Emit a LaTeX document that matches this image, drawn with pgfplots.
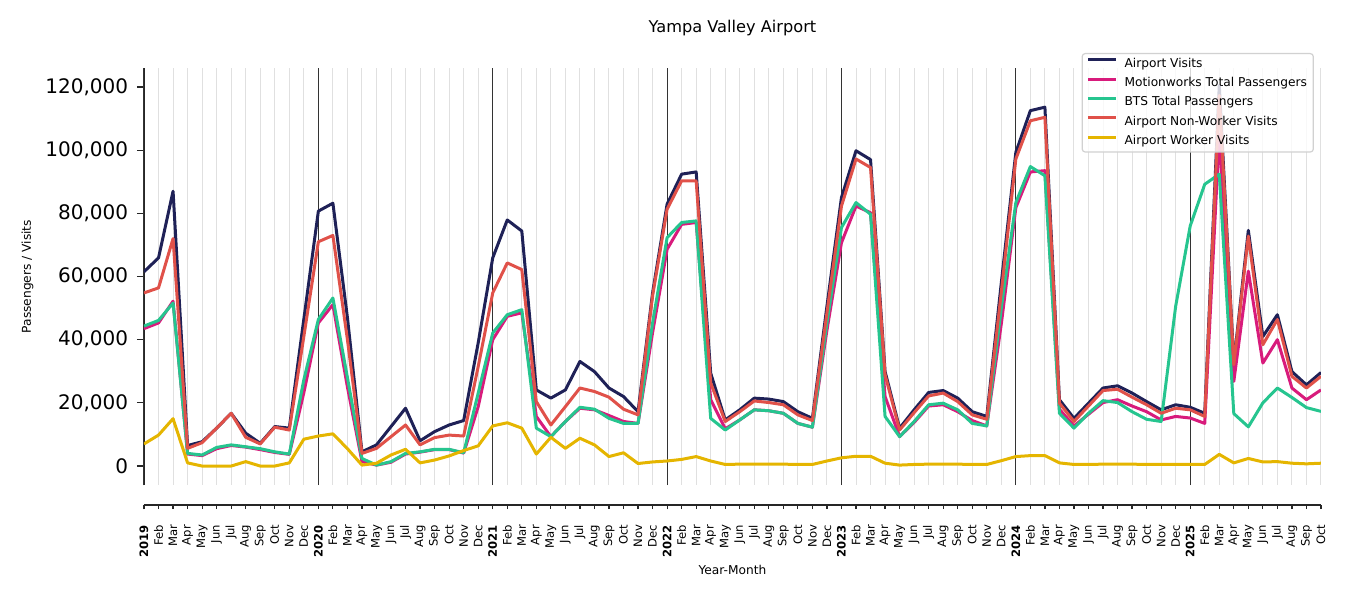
\documentclass[border=0pt]{standalone}
\usepackage{pgfplots}
\pgfplotsset{compat=1.18}
\usepackage{pgfplotstable}
\usepackage{fontspec}
\setmainfont{DejaVu Sans}

\definecolor{cnavy}{RGB}{31,33,87}
\definecolor{cpink}{RGB}{216,27,124}
\definecolor{cgreen}{RGB}{38,197,143}
\definecolor{cred}{RGB}{224,81,73}
\definecolor{cyellow}{RGB}{229,181,0}

\pgfplotstableread{
m visits motion bts nonworker worker
0 61500 43500 44300 54800 7000
1 65900 45300 46100 56400 9800
2 87000 52200 51600 72000 15000
3 6500 3800 4000 5600 1000
4 7700 3300 3500 7400 0
5 12000 5500 5900 12000 0
6 16700 6500 6700 16700 0
7 10400 6000 6100 9100 1400
8 7200 5200 5500 7000 0
9 12500 4300 4500 12300 0
10 12000 3700 3800 11400 1000
11 46500 23200 27300 41000 8500
12 80700 45300 46400 71000 9500
13 83200 51100 53200 73000 10200
14 47000 25000 28000 40000 5500
15 4500 1400 2400 4000 300
16 6700 300 300 5600 900
17 12500 1200 1400 9300 3500
18 18300 3800 4000 13000 5300
19 8000 4400 4500 6700 1000
20 10900 5200 5300 9000 1900
21 13000 5200 5300 9800 3200
22 14400 4100 4200 9500 4900
23 39000 18800 23100 31500 6400
24 65900 40000 42100 54800 12700
25 77900 47400 47900 64300 13700
26 74400 48500 49500 62200 12000
27 24100 15700 12000 20400 3800
28 21500 9300 9300 13000 9100
29 24100 14100 14100 18800 5600
30 33100 18300 18600 24700 8800
31 29900 17800 18000 23600 6700
32 24700 16000 15100 21800 3000
33 22000 14100 13500 18000 4200
34 17200 13500 13500 16200 800
35 54800 42200 45300 53800 1300
36 82900 68600 72300 81300 1600
37 92400 76500 77100 90300 2100
38 93100 77100 77600 90300 3000
39 29400 21000 15100 26300 1600
40 14600 11800 11400 14100 500
41 17800 14600 14600 17200 600
42 21500 17800 17800 20600 600
43 21200 17500 17500 20100 600
44 20400 16700 16700 19400 600
45 17200 13500 13500 16200 500
46 15100 12300 12300 14400 500
47 50600 43000 45300 48500 1600
48 85000 70700 75500 82300 2600
49 99800 82300 83400 97200 3100
50 97000 80200 79700 94500 3100
51 29900 22000 15700 28900 900
52 12000 9300 9300 11400 300
53 17800 13800 14100 16900 500
54 23300 19000 19400 22200 600
55 23900 19400 19900 23100 600
56 21500 17200 17800 20400 600
57 17200 14400 13500 16200 500
58 15700 12700 12700 14800 500
59 58000 45000 50000 55000 1700
60 99300 81800 83400 97200 3000
61 112500 93100 94800 109300 3300
62 113600 93500 91900 110400 3300
63 21000 18000 16700 19900 1000
64 15100 12700 12000 14100 500
65 19900 16400 16700 19000 500
66 24700 20100 20700 23900 600
67 25400 21000 20100 24300 600
68 23100 19000 17200 21800 600
69 20400 17200 14800 19400 500
70 17800 14600 14100 16700 500
71 19400 15700 50600 18300 500
72 18600 15200 76000 17800 500
73 16700 13500 89200 15700 500
74 120500 105000 92400 117300 3700
75 32600 26800 16600 32100 1000
76 74600 61700 12400 72800 2400
77 41000 32600 20000 38400 1300
78 47900 40000 24700 46400 1400
79 29900 24700 21700 28400 900
80 25700 21000 18500 24700 700
81 29600 24100 17300 28400 900
}\datatable

\begin{document}
\begin{tikzpicture}
\useasboundingbox (0,0) rectangle (675pt,300pt);

\begin{axis}[
  at={(72pt,57.5pt)}, anchor=south west,
  scale only axis, width=588.5pt, height=208.5pt,
  xmin=0, xmax=81, ymin=-6000, ymax=126000,
  no markers,
  separate axis lines,
  axis y line*=left, axis x line*=bottom,
  axis x line shift=10pt,
  x axis line style={draw=black!85, line width=1pt},
  y axis line style={draw=black!85, line width=0.6pt},
  xtick={0,...,81},
  xticklabels={\textbf{2019},Feb,Mar,Apr,May,Jun,Jul,Aug,Sep,Oct,Nov,Dec,
    \textbf{2020},Feb,Mar,Apr,May,Jun,Jul,Aug,Sep,Oct,Nov,Dec,
    \textbf{2021},Feb,Mar,Apr,May,Jun,Jul,Aug,Sep,Oct,Nov,Dec,
    \textbf{2022},Feb,Mar,Apr,May,Jun,Jul,Aug,Sep,Oct,Nov,Dec,
    \textbf{2023},Feb,Mar,Apr,May,Jun,Jul,Aug,Sep,Oct,Nov,Dec,
    \textbf{2024},Feb,Mar,Apr,May,Jun,Jul,Aug,Sep,Oct,Nov,Dec,
    \textbf{2025},Feb,Mar,Apr,May,Jun,Jul,Aug,Sep,Oct},
  xtick style={draw=black!85, line width=0.6pt},
  x tick style={/pgfplots/major tick length=2pt},
  xticklabel style={yshift=-5.5pt, rotate=90, anchor=east, font=\fontsize{5.8}{7}\selectfont, inner sep=0pt},
  xmajorgrids,
  major grid style={black!12, line width=0.5pt},
  extra x ticks={0,12,24,36,48,60,72},
  extra x tick labels={},
  extra x tick style={grid=major, major grid style={black!80, line width=0.5pt}, /pgfplots/major tick length=3.5pt},
  ytick={0,20000,40000,60000,80000,100000,120000},
  ytick style={draw=black!85, line width=0.6pt},
  y tick style={/pgfplots/major tick length=3.5pt},
  tick align=outside,
  scaled y ticks=false,
  yticklabel style={font=\fontsize{10}{12}\selectfont, inner sep=0pt, xshift=-3.5pt},
  /pgf/number format/.cd, fixed, precision=0, 1000 sep={,}, assume math mode=true,
  /pgfplots/.cd,
  xlabel={Year-Month},
  every axis x label/.style={at={(rel axis cs:0.5,0)}, yshift=-42.5pt, anchor=center, font=\fontsize{6.1}{7}\selectfont},
  ylabel={Passengers / Visits},
  every axis y label/.style={at={(rel axis cs:0,0.5)}, xshift=-58.3pt, rotate=90, anchor=center, font=\fontsize{6.1}{7}\selectfont},
  title={Yampa Valley Airport},
  every axis title/.style={at={(rel axis cs:0.5,1)}, yshift=20pt, anchor=center, font=\fontsize{8.1}{9.7}\selectfont},
  legend cell align=left,
  legend image code/.code={\draw[#1, line width=1.5pt] (0pt,2.1pt) -- (14pt,2.1pt);},
  legend style={at={(rel axis cs:0.994,1.036)}, anchor=north east,
    draw=black!18, line width=0.6pt, rounded corners=1.5pt,
    fill=white, fill opacity=0.8, text opacity=1, inner xsep=2.2pt, inner ysep=1pt,
    font=\fontsize{6.1}{7}\selectfont, row sep=1.3pt,
    nodes={inner xsep=1pt, inner ysep=1.2pt, text height=4.6pt, text depth=1.4pt},
    /tikz/every odd column/.append style={column sep=2.5pt}},
]
\addplot[cnavy, line width=1.5pt, line join=round] table[x=m,y=visits]{\datatable};
\addlegendentry{Airport Visits}
\addplot[cpink, line width=1.5pt, line join=round] table[x=m,y=motion]{\datatable};
\addlegendentry{Motionworks Total Passengers}
\addplot[cgreen, line width=1.5pt, line join=round] table[x=m,y=bts]{\datatable};
\addlegendentry{BTS Total Passengers}
\addplot[cred, line width=1.5pt, line join=round] table[x=m,y=nonworker]{\datatable};
\addlegendentry{Airport Non-Worker Visits}
\addplot[cyellow, line width=1.5pt, line join=round] table[x=m,y=worker]{\datatable};
\addlegendentry{Airport Worker Visits}
\end{axis}
\end{tikzpicture}
\end{document}
